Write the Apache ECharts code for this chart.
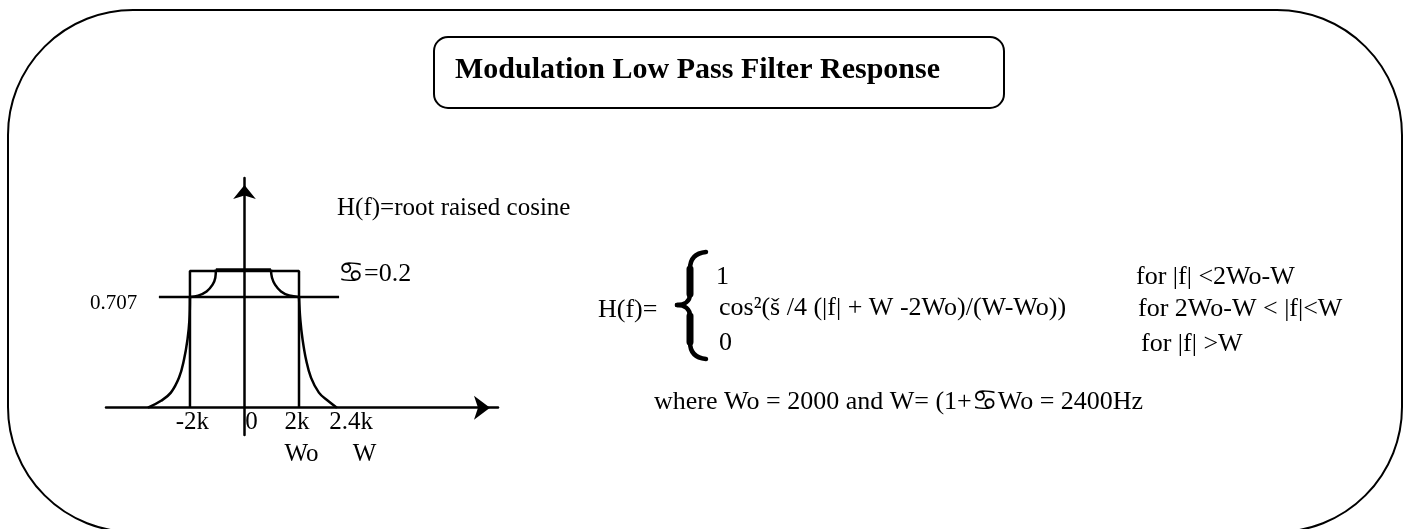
<!DOCTYPE html>
<html>
<head>
<meta charset="utf-8">
<title>Modulation Low Pass Filter Response</title>
<script src="https://cdn.jsdelivr.net/npm/echarts@6/dist/echarts.min.js"></script>
<style>
  html, body { margin: 0; padding: 0; background: #fff; }
  #chart { width: 1408px; height: 529px; }
</style>
</head>
<body>
<div id="chart"></div>
<script>
// sketch of the filter, x in Hz, y as drawn in the picture
const passBandX = [-2000, -2000, 2000, 2000];
const passBandY = [0, 1, 1, 0];
const flatTopX = [-1050, 970];
const flatTopY = [1.01, 1.01];
const leftRollX = [-1050, -1070, -1170, -1390, -1700, -2000];
const rightRollX = [970, 1010, 1120, 1340, 1640, 2000];
const rollY = [1.01, 0.95, 0.9, 0.85, 0.82, 0.81];
const leftTailX = [-2000, -2020, -2090, -2220, -2400, -2700, -3060, -3540];
const rightTailX = [2000, 2050, 2130, 2260, 2440, 2730, 3060, 3390];
const tailY = [0.81, 0.64, 0.5, 0.35, 0.22, 0.11, 0.05, 0];
const levelX = [-3140, 3470];
const levelY = [0.81, 0.81];
const tickLabels = ['-2k', '0', '2k', '2.4k', 'Wo', 'W'];
const tickX = [-1910, 260, 1930, 3910, 2090, 4400];
const tickY = [-0.105, -0.105, -0.105, -0.105, -0.34, -0.34];

const pairs = (xs, ys) => xs.map((x, i) => [x, ys[i]]);

function curve(data, smooth) {
  return {
    type: 'line',
    data: data,
    symbol: 'none',
    smooth: smooth ? 0.4 : false,
    silent: true,
    lineStyle: { color: '#000', width: 2.5 }
  };
}

// the alpha of the original shows up as the cancer sign, keep it as a plain glyph
const sym = { fontFamily: 'DejaVu Sans', fontSize: 29, fill: '#000', color: '#000' };

function txt(text, x, y, size, weight) {
  return {
    type: 'text',
    x: x,
    y: y,
    style: {
      text: text,
      fill: '#000',
      font: (weight || 'normal') + ' ' + size + 'px "Liberation Serif"',
      align: 'left',
      verticalAlign: 'middle',
      textAlign: 'left',
      textVerticalAlign: 'middle',
      rich: { s: sym }
    }
  };
}

const ink = { stroke: '#000', lineWidth: 7, fill: 'none', lineCap: 'round' };
const thin = { stroke: '#000', lineWidth: 4.5, fill: 'none', lineCap: 'round' };

const axisLineX = {
  onZero: true,
  lineStyle: { color: '#000', width: 2.5 },
  symbol: ['none', 'arrow'],
  symbolSize: [18, 16],
  symbolOffset: [0, -8]
};
const axisLineY = {
  onZero: true,
  lineStyle: { color: '#000', width: 2.5 },
  symbol: ['none', 'arrow'],
  symbolSize: [17, 14],
  symbolOffset: [0, -7]
};

const chart = echarts.init(document.getElementById('chart'));

const option = {
  animation: false,
  backgroundColor: '#fff',
  grid: { left: 106, right: 910, top: 178, bottom: 94, containLabel: false, outerBoundsMode: 'none' },
  xAxis: {
    type: 'value', min: -5080, max: 9300,
    axisLine: axisLineX,
    axisTick: { show: false }, axisLabel: { show: false }, splitLine: { show: false }
  },
  yAxis: {
    type: 'value', min: -0.2, max: 1.68,
    axisLine: axisLineY,
    axisTick: { show: false }, axisLabel: { show: false }, splitLine: { show: false }
  },
  series: [
    curve(pairs(passBandX, passBandY), false),
    curve(pairs(flatTopX, flatTopY), false),
    curve(pairs(leftRollX, rollY), true),
    curve(pairs(rightRollX, rollY), true),
    curve(pairs(leftTailX, tailY), true),
    curve(pairs(rightTailX, tailY), true),
    curve(pairs(levelX, levelY), false),
    {
      type: 'scatter',
      symbolSize: 0,
      clip: false,
      silent: true,
      itemStyle: { color: '#000', opacity: 1 },
      data: tickLabels.map((t, i) => ({ name: t, value: [tickX[i], tickY[i]] })),
      label: {
        show: true, position: 'inside', formatter: '{b}',
        color: '#000', fontSize: 25, fontFamily: 'Liberation Serif',
        textBorderWidth: 0, textBorderColor: 'transparent'
      }
    }
  ],
  graphic: [
    { type: 'rect', shape: { x: 8, y: 10, width: 1394, height: 522, r: 125 },
      style: { fill: 'none', stroke: '#000', lineWidth: 2 } },
    { type: 'rect', shape: { x: 434, y: 37, width: 570, height: 71, r: 14 },
      style: { fill: 'none', stroke: '#000', lineWidth: 2 } },
    txt('Modulation Low Pass Filter Response', 455, 70, 30, 'bold'),
    txt('H(f)=root raised cosine', 337, 208, 25),
    txt('{s|\u264B\uFE0E}=0.2', 338, 274, 26),
    txt('0.707', 90, 303, 21),
    txt('H(f)=', 598, 310, 26),
    txt('1', 716, 277, 26),
    txt('cos\u00B2(\u0161 /4 (|f| + W -2Wo)/(W-Wo))', 719, 308, 26),
    txt('0', 719, 343, 26),
    txt('for |f| <2Wo-W', 1136, 277, 26),
    txt('for 2Wo-W < |f|<W', 1138, 309, 26),
    txt('for |f| >W', 1141, 344, 26),
    txt('where Wo = 2000 and W= (1+{s|\u264B\uFE0E}Wo = 2400Hz', 654, 402, 26),
    // big curly brace
    { type: 'bezierCurve', shape: { x1: 706, y1: 252, cpx1: 695, cpy1: 253, cpx2: 690, cpy2: 259, x2: 690, y2: 269 }, style: thin },
    { type: 'line', shape: { x1: 690, y1: 269, x2: 690, y2: 294 }, style: ink },
    { type: 'bezierCurve', shape: { x1: 690, y1: 294, cpx1: 690, cpy1: 301, cpx2: 685, cpy2: 305, x2: 677, y2: 305 }, style: thin },
    { type: 'bezierCurve', shape: { x1: 677, y1: 305, cpx1: 685, cpy1: 305, cpx2: 690, cpy2: 309, x2: 690, y2: 316 }, style: thin },
    { type: 'line', shape: { x1: 690, y1: 316, x2: 690, y2: 342 }, style: ink },
    { type: 'bezierCurve', shape: { x1: 690, y1: 342, cpx1: 690, cpy1: 352, cpx2: 695, cpy2: 358, x2: 706, y2: 359 }, style: thin }
  ]
};

chart.setOption(option);
</script>
</body>
</html>
